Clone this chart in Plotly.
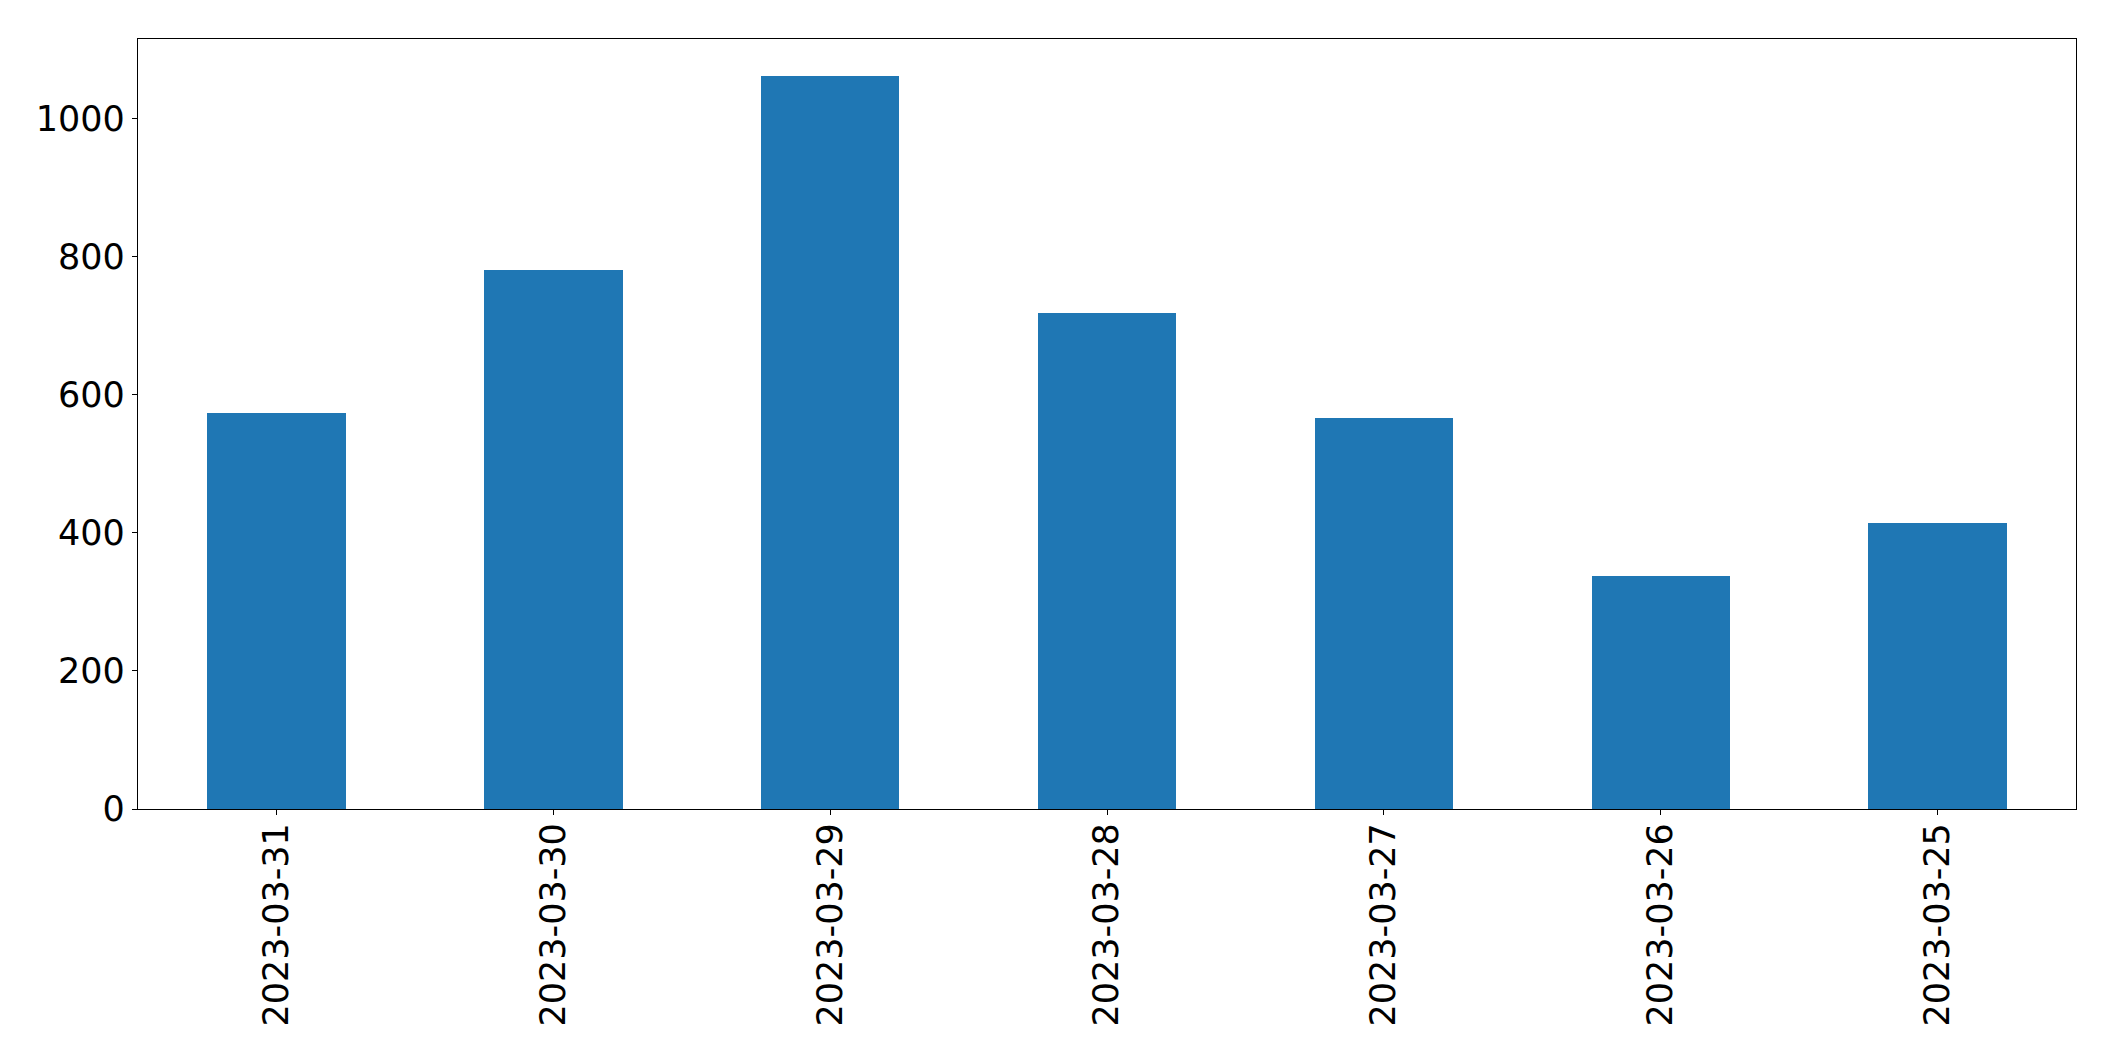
import plotly.graph_objects as go

dates = ["2023-03-31", "2023-03-30", "2023-03-29", "2023-03-28",
         "2023-03-27", "2023-03-26", "2023-03-25"]
counts = [574, 781, 1062, 719, 567, 338, 415]
y_ticks = [0, 200, 400, 600, 800, 1000]

fig = go.Figure()
fig.add_trace(go.Bar(x=dates, y=counts, width=0.5,
                     marker=dict(color="#1f77b4", line=dict(width=0))))

font = dict(family="DejaVu Sans", size=35, color="black")
fig.update_layout(
    width=2115, height=1061,
    margin=dict(l=130, r=47, t=31, b=260),
    paper_bgcolor="white", plot_bgcolor="white",
    showlegend=False, bargap=0,
    font=font,
)
fig.update_xaxes(
    type="category", range=[-0.5, 6.5],
    showline=True, linecolor="black", linewidth=1.3, mirror=True,
    ticks="outside", ticklen=5, tickwidth=1.3, tickcolor="black",
    tickangle=-90, tickfont=font, showgrid=False, zeroline=False,
    ticklabelstandoff=-6,
)
fig.update_yaxes(
    range=[0, 1115.5], tickvals=y_ticks,
    showline=True, linecolor="black", linewidth=1.3, mirror=True,
    ticks="outside", ticklen=5, tickwidth=1.3, tickcolor="black",
    tickfont=font, showgrid=False, zeroline=False,
)
fig.write_html("out.html")
